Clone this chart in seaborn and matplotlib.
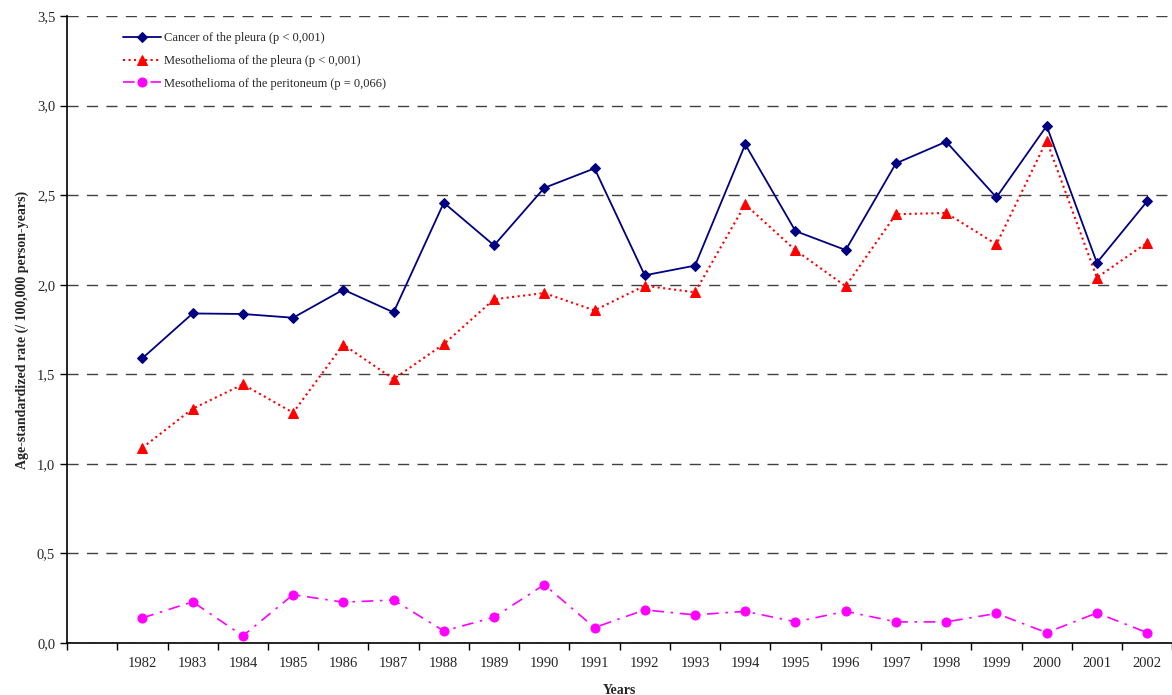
import numpy as np
import pandas as pd
import matplotlib.pyplot as plt
import seaborn as sns
from matplotlib.ticker import FixedLocator, FuncFormatter

years = list(range(1982, 2003))

# age-standardized rates per 100,000 person-years
cancer_pleura = [1.59, 1.84, 1.837, 1.816, 1.973, 1.846, 2.458, 2.22, 2.541, 2.65, 2.053,
                 2.107, 2.784, 2.30, 2.194, 2.678, 2.799, 2.488, 2.887, 2.123, 2.466]
meso_pleura = [1.09, 1.308, 1.444, 1.286, 1.666, 1.474, 1.669, 1.919, 1.954, 1.857, 1.995,
               1.958, 2.449, 2.193, 1.992, 2.394, 2.401, 2.226, 2.805, 2.04, 2.235]
meso_peritoneum = [0.14, 0.23, 0.04, 0.27, 0.228, 0.24, 0.067, 0.144, 0.326, 0.086, 0.185,
                   0.157, 0.177, 0.118, 0.177, 0.118, 0.118, 0.165, 0.058, 0.168, 0.058]

labels = ["Cancer of the pleura (p < 0,001)",
          "Mesothelioma of the pleura (p < 0,001)",
          "Mesothelioma of the peritoneum (p = 0,066)"]

df = pd.DataFrame({"year": years,
                   "cancer": cancer_pleura,
                   "meso": meso_pleura,
                   "perit": meso_peritoneum})
# first category slot on the axis is left empty, points sit in slot centres
df["pos"] = df["year"] - 1981 + 0.5

sns.set_theme(style="white")
plt.rcParams["font.family"] = ["Liberation Serif", "DejaVu Serif"]

fig = plt.figure(figsize=(11.72, 6.95), dpi=100)
ax = fig.add_axes([0.0572, 0.0748, 0.943, 0.902])

sns.lineplot(data=df, x="pos", y="cancer", ax=ax, color="#000080", marker="D",
             markersize=5, markeredgecolor="#000080", linewidth=1.3, label=labels[0])
sns.lineplot(data=df, x="pos", y="meso", ax=ax, color="#ff0000", marker="^",
             markersize=7, markeredgecolor="#ff0000", linewidth=1.5, linestyle=":",
             label=labels[1])
sns.lineplot(data=df, x="pos", y="perit", ax=ax, color="#ff00ff", marker="o",
             markersize=6.5, markeredgecolor="#ff00ff", linewidth=1.2, label=labels[2])
ax.lines[-1].set_dashes([7, 4, 1.5, 4])

ax.set_xlim(0, 22)
ax.set_ylim(0, 3.5)

# tick marks at slot boundaries, year labels in the middle of each slot
ax.xaxis.set_major_locator(FixedLocator(np.arange(0, 23)))
ax.xaxis.set_major_formatter(FuncFormatter(lambda v, p: ""))
ax.set_xticks(df["pos"], minor=True)
ax.set_xticklabels([str(y) for y in years], minor=True)
ax.tick_params(axis="x", which="major", direction="out", length=5, width=1, color="black", bottom=True)
ax.tick_params(axis="x", which="minor", length=0, labelsize=10.5, pad=10)

ax.set_yticks(np.arange(0, 3.51, 0.5))
ax.yaxis.set_major_formatter(FuncFormatter(lambda v, p: f"{v:.1f}".replace(".", ",")))
ax.tick_params(axis="y", direction="out", length=5, width=1, color="black", left=True, labelsize=10.5)

ax.yaxis.grid(True, linestyle=(0, (8, 6)), color="0.25", linewidth=1)
ax.xaxis.grid(False)
ax.set_axisbelow(True)

for s in ["top", "right"]:
    ax.spines[s].set_visible(False)
for s in ["left", "bottom"]:
    ax.spines[s].set_color("black")
    ax.spines[s].set_linewidth(1.2)

ax.set_xlabel("Years", fontweight="bold", fontsize=10, labelpad=10)
ax.set_ylabel("Age-standardized rate (/ 100,000 person-years)", fontweight="bold", fontsize=10, labelpad=6)

leg = ax.legend(loc="upper left", bbox_to_anchor=(0.0405, 0.992), frameon=False,
                fontsize=9, handlelength=3.0, labelspacing=0.85, handletextpad=0.25)

fig.savefig("out.png", dpi=100)
